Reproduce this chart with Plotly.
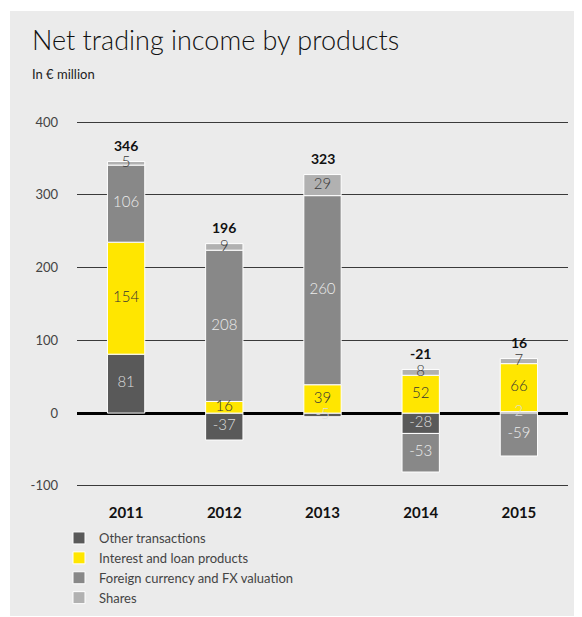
import plotly.graph_objects as go

years = ["2011", "2012", "2013", "2014", "2015"]
other = [81, -37, -5, -28, 2]
interest = [154, 16, 39, 52, 66]
fx = [106, 208, 260, -53, -59]
shares = [5, 9, 29, 8, 7]
totals = [346, 196, 323, -21, 16]
ytick_vals = [-100, 0, 100, 200, 300, 400]
ytick_text = ["-100", "0", "100", "200", "300", "400"]

series = [
    ("Other transactions", other, "#595959", "#dcdcdc"),
    ("Interest and loan products", interest, "#ffe600", "#333333"),
    ("Foreign currency and FX valuation", fx, "#888888", "#ececec"),
    ("Shares", shares, "#b1b1b1", "#3a3a3a"),
]

# page body keeps an 8px margin, so the figure is shifted by that much
OFF = 8
W, H = 582 - OFF, 617 - OFF
L, R, T, B = 69, 14, 112, 129
pw, ph = W - L - R, H - T - B
FONT = "Lato"

# legend sits in container coords; plotly then keeps the bottom margin at
# least (H - legend top), which is below B, so B stays as set
LEG_TOP = 515


def px_x(sx):
    return (sx - OFF - L) / pw


def px_y(sy):
    return (H - B - (sy - OFF)) / ph


fig = go.Figure()

# stacked segments (relative stacking) and centre points for labels
pos = [0.0] * len(years)
neg = [0.0] * len(years)
for name, vals, color, tcolor in series:
    fig.add_trace(go.Bar(
        x=years, y=vals, name=name, width=0.38,
        marker=dict(color=color, line=dict(color="white", width=1)),
    ))
    centres = []
    for i, v in enumerate(vals):
        if v >= 0:
            centres.append(pos[i] + v / 2)
            pos[i] += v
        else:
            centres.append(neg[i] + v / 2)
            neg[i] += v
    fig.add_trace(go.Scatter(
        x=years, y=centres, mode="text", text=[str(v) for v in vals],
        textfont=dict(family=FONT, size=15, color=tcolor, weight=300),
        showlegend=False, hoverinfo="skip", cliponaxis=False,
    ))

# totals above each bar (category index as x)
annotations = [
    dict(x=i, y=top, text=str(tot), showarrow=False, yanchor="middle",
         yshift=16, font=dict(family=FONT, size=14, color="#111111", weight=700))
    for i, (top, tot) in enumerate(zip(pos, totals))
]
annotations += [
    dict(text="Net trading income by products", xref="paper", yref="paper",
         x=px_x(30), y=px_y(40), xanchor="left", yanchor="middle",
         showarrow=False, font=dict(size=27, color="#111111", weight=300)),
    dict(text="In € million", xref="paper", yref="paper",
         x=px_x(30), y=px_y(74), xanchor="left", yanchor="middle",
         showarrow=False, font=dict(size=13, color="#222222")),
]

fig.update_layout(
    width=W, height=H,
    margin=dict(l=L, r=R, t=T, b=B),
    barmode="relative",
    paper_bgcolor="white",
    plot_bgcolor="rgba(0,0,0,0)",
    font=dict(family=FONT, color="#333333"),
    showlegend=True,
    legend=dict(
        orientation="v", traceorder="normal",
        xref="paper", yref="container",
        x=px_x(59), y=1 - LEG_TOP / H,
        xanchor="left", yanchor="top",
        font=dict(size=13, color="#444444"),
        bgcolor="rgba(0,0,0,0)",
    ),
    xaxis=dict(
        type="category", range=[-0.5, 4.5], showgrid=False, showline=False,
        tickfont=dict(size=15, color="#111111", weight=700),
        ticklabelstandoff=14, automargin=False,
    ),
    yaxis=dict(
        range=[-103, 403], tickvals=ytick_vals, ticktext=ytick_text,
        showgrid=True, gridcolor="#3a3a3a", gridwidth=1,
        zeroline=True, zerolinecolor="#000000", zerolinewidth=2.5,
        tickfont=dict(size=13, color="#444444"),
        ticklabelstandoff=18, automargin=False,
    ),
    shapes=[dict(
        type="rect", xref="paper", yref="paper", layer="below",
        x0=px_x(10), x1=px_x(582), y0=px_y(616), y1=px_y(11),
        fillcolor="#ebebeb", line=dict(width=0),
    )],
    annotations=annotations,
)

fig.write_html("out.html")
